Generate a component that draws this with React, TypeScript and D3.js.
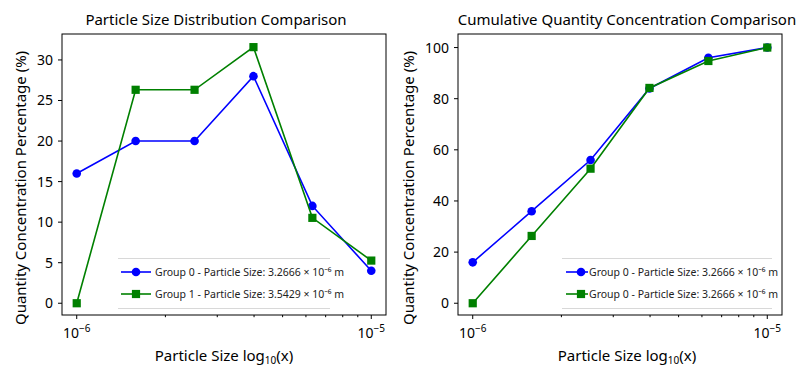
import React from 'react';
import * as d3 from 'd3';

// particle size bins (m), 0.2 decade steps
const sizes = [1e-6, 1.585e-6, 2.512e-6, 3.981e-6, 6.31e-6, 1e-5];

// distribution (%)
const group0Dist = [16, 20, 20, 28, 12, 4];
const group1Dist = [0, 26.32, 26.32, 31.58, 10.53, 5.26];

// cumulative (%)
const group0Cum = [16, 36, 56, 84, 96, 100];
const group1Cum = [0, 26.32, 52.63, 84.21, 94.74, 100];

const distTicks = [0, 5, 10, 15, 20, 25, 30];
const cumTicks = [0, 20, 40, 60, 80, 100];
const minorTicks = [2, 3, 4, 5, 6, 7, 8, 9].map((m) => m * 1e-6);

const FONT = '"Noto Sans", sans-serif';
const BLUE = '#0000ff';
const GREEN = '#008000';

interface PanelProps {
  left: number;
  title: string;
  titleX: number;
  xLabelX: number;
  yLabelX: number;
  s0: number[];
  s1: number[];
  yDomain: [number, number];
  yTicks: number[];
  labels: [string, string];
  legend: { x0: number; x1: number; lx0: number; lx1: number; mx: number; tx: number };
}

const Panel: React.FC<PanelProps> = ({
  left, title, titleX, xLabelX, yLabelX, s0, s1, yDomain, yTicks, labels, legend,
}) => {
  const top = 34;
  const bottom = 315;
  const right = left + 324;
  const x = d3.scaleLog().domain([10 ** -6.05, 10 ** -4.95]).range([left, right]);
  const y = d3.scaleLinear().domain(yDomain).range([bottom, top]);
  const line = d3.line<number>().x((_, i) => x(sizes[i])).y((d) => y(d));

  return (
    <g fontFamily={FONT}>
      <text x={titleX} y={25} textAnchor="middle" fontSize={15} fill="#000">{title}</text>

      {/* series */}
      <path d={line(s0) as string} fill="none" stroke={BLUE} strokeWidth={1.6} />
      {s0.map((d, i) => (
        <circle key={'c' + i} cx={x(sizes[i])} cy={y(d)} r={4.3} fill={BLUE} />
      ))}
      <path d={line(s1) as string} fill="none" stroke={GREEN} strokeWidth={1.6} />
      {s1.map((d, i) => (
        <rect key={'s' + i} x={x(sizes[i]) - 4.1} y={y(d) - 4.1} width={8.2} height={8.2} fill={GREEN} />
      ))}

      {/* legend */}
      <line x1={legend.x0} x2={legend.x1} y1={258.5} y2={258.5} stroke="#d8d8d8" />
      <line x1={legend.x0} x2={legend.x1} y1={308.5} y2={308.5} stroke="#d8d8d8" />
      <line x1={legend.lx0} x2={legend.lx1} y1={272} y2={272} stroke={BLUE} strokeWidth={1.6} />
      <circle cx={legend.mx} cy={272} r={4.3} fill={BLUE} />
      <text x={legend.tx} y={276} fontSize={10.5} fill="#222">{labels[0]}</text>
      <line x1={legend.lx0} x2={legend.lx1} y1={294} y2={294} stroke={GREEN} strokeWidth={1.6} />
      <rect x={legend.mx - 4.1} y={289.9} width={8.2} height={8.2} fill={GREEN} />
      <text x={legend.tx} y={298} fontSize={10.5} fill="#222">{labels[1]}</text>

      {/* frame */}
      <rect x={left} y={top} width={right - left} height={bottom - top} fill="none" stroke="#000" strokeWidth={1} />

      {/* y axis */}
      {yTicks.map((t) => (
        <g key={'y' + t}>
          <line x1={left - 4} x2={left} y1={y(t)} y2={y(t)} stroke="#000" />
          <text x={left - 9} y={y(t) + 5} textAnchor="end" fontSize={14} fill="#000">{t}</text>
        </g>
      ))}

      {/* x axis */}
      {minorTicks.map((t) => (
        <line key={'m' + t} x1={x(t)} x2={x(t)} y1={bottom} y2={bottom + 2.2} stroke="#000" />
      ))}
      {[1e-6, 1e-5].map((t, i) => (
        <g key={'x' + i}>
          <line x1={x(t)} x2={x(t)} y1={bottom} y2={bottom + 4} stroke="#000" />
          <text x={x(t)} y={338} textAnchor="middle" fontSize={14} fill="#000">
            10<tspan dy={-6} fontSize={10}>{i === 0 ? '−6' : '−5'}</tspan>
          </text>
        </g>
      ))}

      <text x={xLabelX} y={361} textAnchor="middle" fontSize={15} fill="#000">
        Particle Size log<tspan dy={3} fontSize={10}>10</tspan><tspan dy={-3}>(x)</tspan>
      </text>
      <text
        transform={`translate(${yLabelX},188) rotate(-90)`}
        textAnchor="middle"
        fontSize={15}
        fill="#000"
      >
        Quantity Concentration Percentage (%)
      </text>
    </g>
  );
};

export default function App() {
  return (
    <svg width={797} height={374} style={{ position: 'absolute', left: 0, top: 0, background: '#fff' }}>
      <rect width={797} height={374} fill="#fff" />
      <Panel
        left={62}
        title="Particle Size Distribution Comparison"
        titleX={216}
        xLabelX={224}
        yLabelX={26}
        s0={group0Dist}
        s1={group1Dist}
        yDomain={[-1.45, 33.2]}
        yTicks={distTicks}
        labels={['Group 0 - Particle Size: 3.2666 × 10⁻⁶ m', 'Group 1 - Particle Size: 3.5429 × 10⁻⁶ m']}
        legend={{ x0: 118, x1: 330, lx0: 121, lx1: 151, mx: 136, tx: 155 }}
      />
      <Panel
        left={458}
        title="Cumulative Quantity Concentration Comparison"
        titleX={627}
        xLabelX={627}
        yLabelX={414}
        s0={group0Cum}
        s1={group1Cum}
        yDomain={[-4.6, 105.3]}
        yTicks={cumTicks}
        labels={['Group 0 - Particle Size: 3.2666 × 10⁻⁶ m', 'Group 0 - Particle Size: 3.2666 × 10⁻⁶ m']}
        legend={{ x0: 562, x1: 772, lx0: 566, lx1: 588, mx: 581, tx: 589 }}
      />
    </svg>
  );
}
